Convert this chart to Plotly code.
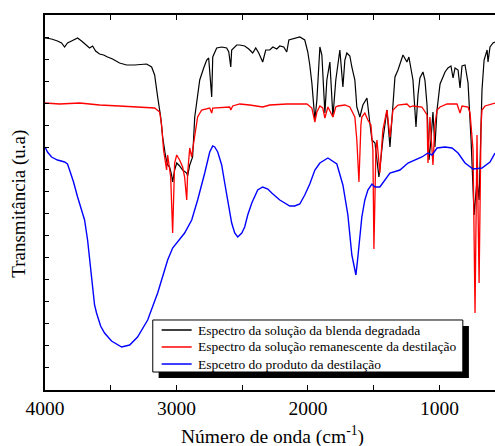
import plotly.graph_objects as go

# wavenumber (cm-1) / transmittance (arbitrary units, offset traces)
black_wn = [4000, 3950, 3905, 3874, 3851, 3829, 3798, 3752, 3722, 3692, 3661, 3638, 3615, 3585, 3554,
            3524, 3486, 3433, 3379, 3318, 3227, 3189, 3166, 3143, 3120, 3105, 3082, 3067, 3052, 3037,
            3029, 3014, 2998, 2976, 2953, 2922, 2915, 2899, 2877, 2861, 2839, 2823, 2793, 2770, 2755,
            2747, 2732, 2724, 2694, 2656, 2618, 2602, 2587, 2580, 2542, 2519, 2481, 2450, 2420, 2397,
            2374, 2344, 2321, 2290, 2267, 2237, 2214, 2184, 2161, 2145, 2100, 2062, 2024, 2001, 1986,
            1970, 1947, 1932, 1909, 1894, 1871, 1856, 1833, 1810, 1788, 1757, 1734, 1719, 1704, 1681,
            1666, 1643, 1628, 1605, 1582, 1551, 1529, 1513, 1490, 1460, 1430, 1399, 1376, 1353, 1338,
            1315, 1277, 1247, 1232, 1201, 1178, 1163, 1148, 1125, 1110, 1094, 1079, 1064, 1049, 1034,
            1018, 995, 957, 935, 912, 896, 881, 858, 843, 828, 805, 782, 759, 736, 714,
            698, 676, 660, 637, 630, 615, 592, 577]
black_t = [352, 351, 349, 347, 343, 347, 349, 352, 349, 346, 342, 344, 339, 336, 335,
           333, 331, 327, 325, 325, 326, 323, 315, 293, 273, 253, 233, 225, 223, 215,
           208, 220, 227, 224, 220, 217, 214, 225, 233, 273, 298, 310, 322, 330, 332,
           320, 293, 333, 342, 343, 342, 338, 323, 340, 345, 345, 344, 341, 337, 342,
           337, 328, 340, 340, 343, 341, 344, 343, 338, 350, 352, 353, 350, 338, 325,
           307, 270, 290, 343, 335, 277, 310, 328, 273, 310, 340, 303, 330, 337, 334,
           323, 310, 283, 273, 285, 292, 267, 250, 247, 213, 250, 280, 243, 290, 313,
           320, 335, 328, 333, 310, 263, 295, 312, 318, 310, 285, 230, 250, 278, 243,
           280, 306, 318, 322, 324, 312, 322, 320, 302, 324, 325, 307, 250, 175, 210,
           190, 300, 330, 340, 328, 343, 347, 348]

red_wn = [4000, 3890, 3737, 3585, 3433, 3280, 3204, 3166, 3128, 3113, 3098, 3090, 3075, 3067, 3052,
          3044, 3029, 3014, 2998, 2976, 2953, 2938, 2922, 2915, 2899, 2884, 2877, 2861, 2839, 2808,
          2747, 2732, 2724, 2595, 2587, 2572, 2519, 2443, 2404, 2344, 2290, 2161, 2008, 1970, 1947,
          1932, 1909, 1887, 1871, 1848, 1810, 1788, 1772, 1719, 1681, 1643, 1628, 1612, 1597, 1590,
          1567, 1544, 1521, 1506, 1498, 1483, 1475, 1453, 1430, 1399, 1376, 1353, 1315, 1247, 1224,
          1201, 1133, 1094, 1087, 1072, 1049, 1034, 1018, 995, 942, 866, 843, 828, 782, 767,
          744, 729, 714, 698, 683, 676, 653, 577]
red_t = [287, 286, 287, 285, 284, 283, 282, 282, 278, 265, 240, 233, 220, 235, 220,
         213, 157, 227, 235, 230, 223, 213, 190, 217, 242, 233, 240, 253, 273, 280,
         282, 277, 282, 283, 280, 284, 286, 285, 284, 283, 285, 286, 286, 282, 268,
         278, 284, 282, 272, 283, 273, 283, 284, 285, 283, 273, 250, 208, 265, 273,
         277, 270, 265, 240, 141, 240, 250, 217, 260, 280, 253, 280, 285, 286, 283,
         284, 283, 275, 227, 273, 225, 265, 280, 283, 286, 286, 277, 284, 283, 277,
         240, 77, 255, 107, 265, 280, 284, 287]

blue_wn = [4000, 3981, 3950, 3905, 3851, 3829, 3813, 3783, 3752, 3722, 3699, 3676, 3661, 3646, 3623,
           3608, 3577, 3547, 3494, 3417, 3356, 3296, 3219, 3143, 3067, 3029, 2998, 2938, 2884, 2839,
           2785, 2747, 2724, 2709, 2686, 2656, 2633, 2602, 2580, 2557, 2534, 2503, 2481, 2458, 2427,
           2382, 2344, 2305, 2275, 2214, 2176, 2138, 2100, 2062, 2024, 1986, 1947, 1909, 1848, 1780,
           1734, 1696, 1666, 1635, 1620, 1590, 1567, 1544, 1513, 1490, 1453, 1414, 1376, 1300, 1239,
           1133, 1087, 1056, 1018, 957, 904, 858, 805, 744, 676, 615, 577]
blue_t = [243, 238, 233, 230, 228, 226, 220, 208, 193, 180, 170, 150, 132, 110, 85,
          77, 64, 57, 49, 43, 45, 53, 70, 97, 130, 142, 147, 157, 170, 190,
          217, 238, 244, 243, 238, 225, 207, 185, 167, 157, 153, 157, 163, 175, 187,
          200, 203, 201, 197, 190, 187, 184, 184, 186, 195, 206, 220, 227, 232, 226,
          205, 175, 135, 115, 133, 173, 190, 200, 206, 203, 203, 210, 217, 220, 227,
          233, 237, 235, 242, 243, 242, 237, 227, 221, 222, 228, 237]

names = ["Espectro da solução da blenda degradada",
         "Espectro da solução remanescente da destilação",
         "Espcetro do produto da destilação"]
colors = ["black", "red", "blue"]

serif = "Liberation Serif, Times New Roman, serif"

fig = go.Figure()
fig.add_trace(go.Scatter(x=black_wn, y=black_t, mode="lines", name=names[0],
                         line=dict(color=colors[0], width=1.2)))
fig.add_trace(go.Scatter(x=red_wn, y=red_t, mode="lines", name=names[1],
                         line=dict(color=colors[1], width=1.3)))
fig.add_trace(go.Scatter(x=blue_wn, y=blue_t, mode="lines", name=names[2],
                         line=dict(color=colors[2], width=1.4)))

# legend drawn by hand: shadow, box, sample lines, labels
fig.add_shape(type="rect", xref="paper", yref="paper", x0=0.2525, x1=0.942, y0=0.032, y1=0.1707,
              fillcolor="black", line=dict(width=0), layer="above")
fig.add_shape(type="rect", xref="paper", yref="paper", x0=0.2395, x1=0.9285, y0=0.048, y1=0.1867,
              fillcolor="white", line=dict(color="black", width=1), layer="above")
row_y = [0.16, 0.1147, 0.0693]
for name, col, yy in zip(names, colors, row_y):
    fig.add_shape(type="line", xref="paper", yref="paper", x0=0.2592, x1=0.3259, y0=yy, y1=yy,
                  line=dict(color=col, width=1.5), layer="above")
    fig.add_annotation(text=name, xref="paper", yref="paper", x=0.335, y=yy,
                       xanchor="left", yanchor="middle", showarrow=False,
                       font=dict(family=serif, size=13.5, color="black"))

# axis titles
fig.add_annotation(text="Número de onda (cm<sup>-1</sup>)", xref="paper", yref="paper",
                   x=0.297, y=-0.12, xanchor="left", yanchor="middle", showarrow=False,
                   font=dict(family=serif, size=19.5, color="black"))
fig.add_annotation(text="Transmitância (u.a)", xref="paper", yref="paper",
                   x=-0.0567, y=0.498, xanchor="center", yanchor="middle", textangle=-90,
                   showarrow=False, font=dict(family=serif, size=19, color="black"))

fig.update_layout(
    width=495, height=446,
    margin=dict(l=45, r=0, t=15, b=56),
    paper_bgcolor="white", plot_bgcolor="white",
    font=dict(family=serif, color="black", size=19),
    showlegend=False,
    xaxis=dict(range=[4000, 577], showgrid=False, zeroline=False, automargin=False,
               showline=True, linecolor="black", linewidth=1.5, mirror="ticks",
               ticks="inside", ticklen=5, tickwidth=1, tickcolor="black",
               tick0=0, dtick=1000,
               minor=dict(ticks="inside", ticklen=5, dtick=500, tick0=0, tickcolor="black"),
               tickfont=dict(size=19.5)),
    yaxis=dict(range=[0, 375], showgrid=False, zeroline=False, automargin=False,
               showline=True, linecolor="black", linewidth=1.5,
               ticks="inside", ticklen=4, tickwidth=1, tickcolor="black",
               tick0=0, dtick=22.06, showticklabels=False),
)

# page body has a default 8px margin; remove it so the figure sits at the window corner
fig.write_html("out.html", config={"displayModeBar": False},
               post_script="document.body.style.margin='0';")
